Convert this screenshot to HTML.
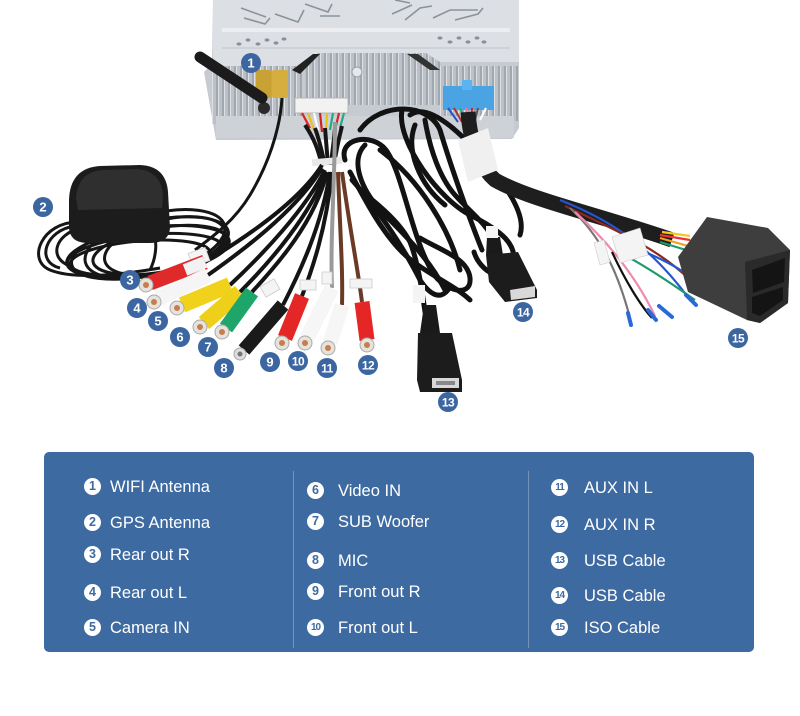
<!DOCTYPE html>
<html><head><meta charset="utf-8">
<style>
html,body{margin:0;padding:0;background:#fff;}
body{width:800px;height:716px;position:relative;overflow:hidden;font-family:"Liberation Sans",Arial,sans-serif;}
svg{position:absolute;left:0;top:0;}
.box{position:absolute;left:44px;top:452px;width:710px;height:200px;background:#3d6aa0;border-radius:5px;}
.dv{position:absolute;top:471px;width:1px;height:177px;background:rgba(255,255,255,0.28);}
.t{position:absolute;height:20px;line-height:20px;color:#fff;font-size:16.5px;white-space:nowrap;}
.c{position:absolute;width:17px;height:17px;border-radius:50%;background:#fff;color:#3d6aa0;font-weight:bold;font-size:12.5px;line-height:17px;text-align:center;}
.c2{font-size:10px;letter-spacing:-1px;}
</style></head><body>
<svg width="800" height="450" viewBox="0 0 800 450" xmlns="http://www.w3.org/2000/svg">
<defs>
<pattern id="fins" width="6" height="10" patternUnits="userSpaceOnUse">
<rect width="6" height="10" fill="#bcc1c7"/><rect x="0" width="2" height="10" fill="#a1a7ae"/><rect x="2" width="1" height="10" fill="#dde0e4"/>
</pattern>
</defs>
<!-- head unit -->
<polygon points="213,0 519,0 519,128 512,139 216,140 204,72 212,64" fill="#c6cbd1"/>
<rect x="212" y="64" width="90" height="60" fill="url(#fins)"/>
<rect x="305" y="53" width="135" height="52" fill="url(#fins)"/>
<rect x="440" y="66" width="78" height="55" fill="url(#fins)"/>
<path d="M213,0 H519 V62 H440 L426,53 H318 L301,66 H213 Z" fill="#dce0e5"/>
<path d="M222,30 H510" stroke="#eceef1" stroke-width="4"/>
<path d="M222,48 H510" stroke="#c9cdd2" stroke-width="1.5"/>
<polygon points="292,70 313,54 320,54 300,74" fill="#222"/>
<polygon points="407,54 430,70 440,70 418,54" fill="#333"/>
<rect x="216" y="116" width="298" height="22" fill="#ced2d7"/>
<g stroke="#8c9299" stroke-width="1.6" fill="none">
<path d="M241,8 L266,17 M244,18 L265,24 L270,18 M275,14 L298,22 L304,10 M305,4 L328,12 L332,4 M320,16 L340,16"/>
<path d="M392,14 L412,5 M405,20 L420,8 L432,6 M433,18 L450,10 L478,10 M455,20 L478,14 L483,8 M395,0 L410,3"/>
</g>
<g fill="#8b9097">
<ellipse cx="239" cy="44" rx="2.5" ry="1.6"/><ellipse cx="248" cy="40" rx="2.5" ry="1.6"/><ellipse cx="258" cy="44" rx="2.5" ry="1.6"/><ellipse cx="267" cy="40" rx="2.5" ry="1.6"/><ellipse cx="276" cy="43" rx="2.5" ry="1.6"/><ellipse cx="284" cy="39" rx="2.5" ry="1.6"/>
<ellipse cx="440" cy="38" rx="2.5" ry="1.6"/><ellipse cx="450" cy="42" rx="2.5" ry="1.6"/><ellipse cx="459" cy="38" rx="2.5" ry="1.6"/><ellipse cx="468" cy="42" rx="2.5" ry="1.6"/><ellipse cx="477" cy="38" rx="2.5" ry="1.6"/><ellipse cx="484" cy="42" rx="2.5" ry="1.6"/>
</g>
<circle cx="357" cy="72" r="5" fill="#e5e7ea" stroke="#9aa0a6"/>
<!-- white connector -->
<rect x="295" y="98" width="53" height="15" fill="#f2f2f2" stroke="#b5b5b5"/>
<g stroke-width="2.2" fill="none">
<path d="M302,113 L310,128" stroke="#d22"/><path d="M308,113 L314,130" stroke="#e8c21a"/><path d="M314,113 L318,130" stroke="#fff"/><path d="M320,113 L322,132" stroke="#c22"/><path d="M327,113 L326,132" stroke="#e8c21a"/><path d="M333,113 L330,130" stroke="#2a8"/><path d="M339,113 L335,130" stroke="#d22"/><path d="M344,113 L340,128" stroke="#2a8"/>
</g>
<!-- blue connector -->
<rect x="443" y="86" width="51" height="24" fill="#4aa4e4"/>
<rect x="462" y="80" width="10" height="10" fill="#5ab4f0"/>
<g stroke-width="2" fill="none">
<path d="M448,108 L458,122" stroke="#2255cc"/><path d="M454,108 L462,122" stroke="#a33"/><path d="M460,108 L465,120" stroke="#2a8"/><path d="M466,108 L468,120" stroke="#e7a"/><path d="M472,108 L471,120" stroke="#d22"/><path d="M478,108 L475,120" stroke="#555"/><path d="M486,108 L480,120" stroke="#fff"/>
</g>
<!-- gold SMA -->
<rect x="256" y="70" width="15" height="28" fill="#c9a236" rx="2"/>
<rect x="272" y="70" width="16" height="28" fill="#d6ae40" rx="2"/>
<circle cx="264" cy="108" r="6" fill="#2a2a2a"/>
<!-- antenna stub -->
<line x1="200" y1="57" x2="262" y2="98" stroke="#1b1b1b" stroke-width="11" stroke-linecap="round"/>
<!-- antenna cable -->
<path d="M282,98 C280,130 268,165 250,195 C235,220 215,235 195,250" stroke="#151515" stroke-width="3" fill="none"/>
<!-- GPS coil -->
<g stroke="#161616" stroke-width="3" fill="none">
<path d="M78,222 C42,222 26,260 50,270 C75,280 120,275 160,268"/>
<path d="M75,226 C45,230 35,262 60,268"/>
<path d="M80,228 C55,235 48,258 70,266"/>
<ellipse cx="150" cy="248" rx="80" ry="27" transform="rotate(-12 150 248)"/>
<ellipse cx="148" cy="252" rx="82" ry="24" transform="rotate(-8 148 252)"/>
<ellipse cx="155" cy="244" rx="72" ry="30" transform="rotate(-15 155 244)"/>
<ellipse cx="160" cy="250" rx="68" ry="22" transform="rotate(-10 160 250)"/>
<ellipse cx="145" cy="255" rx="78" ry="20" transform="rotate(-6 145 255)"/>
<ellipse cx="165" cy="246" rx="62" ry="26" transform="rotate(-14 165 246)"/>
<ellipse cx="140" cy="258" rx="70" ry="17" transform="rotate(-5 140 258)"/>
<path d="M150,225 C160,240 155,260 150,270"/>
</g>
<!-- GPS module -->
<path d="M69,200 Q70,168 100,166 L140,165 Q166,166 168,192 L170,228 Q169,243 150,243 L86,243 Q70,242 69,228 Z" fill="#1c1c1c"/>
<path d="M76,198 Q78,172 102,170 L138,169 Q160,171 163,194 L162,208 L78,210 Z" fill="#2f2f2f"/>
<!-- USB cable loops -->
<g stroke="#121212" stroke-width="5" fill="none" stroke-linecap="round">
<path d="M345,160 C338,138 372,132 386,150 C402,172 410,230 430,268 C440,290 472,300 470,278 C468,258 440,250 420,238"/>
<path d="M360,130 C380,102 428,102 440,130 C452,170 470,220 482,250"/>
<path d="M402,110 C396,142 440,200 470,215 C500,230 520,245 512,266 C505,285 480,272 474,252"/>
<path d="M350,172 C366,202 382,232 402,252 C422,272 455,285 470,300"/>
<path d="M352,180 C370,200 400,240 420,280 C430,295 440,300 448,290"/>
<path d="M425,312 C422,290 418,262 410,242 C400,222 378,204 362,192"/>
<path d="M493,240 C488,225 470,212 455,195 C440,178 430,150 425,120"/>
<path d="M410,115 C430,100 470,140 500,180 C515,200 525,220 520,235"/>
<path d="M380,150 C420,180 450,230 460,270"/>
<path d="M365,145 C350,160 360,190 385,215 C405,235 430,260 445,290"/>
<path d="M415,125 C405,150 420,185 445,205"/>
</g>
<!-- bundle -->
<g stroke="#161616" stroke-width="4" fill="none">
<path d="M305,125 C315,140 318,150 322,165"/><path d="M315,128 C320,142 322,152 325,165"/><path d="M325,128 C326,140 327,152 328,165"/><path d="M335,128 C334,142 332,152 331,165"/><path d="M342,126 C338,142 336,152 334,165"/>
</g>
<rect x="312" y="158" width="30" height="7" fill="#e8e8e8" transform="rotate(-5 327 161)"/>
<!-- fan cables -->
<g stroke="#141414" stroke-width="4" fill="none">
<path d="M322,165 C300,200 250,235 205,262"/>
<path d="M322,168 C300,205 255,242 208,275"/>
<path d="M325,170 C305,210 262,255 230,285"/>
<path d="M326,172 C310,215 272,260 240,292"/>
<path d="M327,172 C315,222 277,265 252,292"/>
<path d="M330,172 C322,225 300,272 283,305"/>
<path d="M332,172 C326,230 312,270 302,296"/>
</g>
<path d="M335,122 C335,180 330,240 332,288" stroke="#9a9a9a" stroke-width="4" fill="none"/>
<path d="M338,172 C340,230 343,270 342,305" stroke="#6b3a25" stroke-width="4" fill="none"/>
<path d="M342,172 C350,230 358,270 362,302" stroke="#6b3a25" stroke-width="4" fill="none"/>
<!-- tags -->
<g fill="#f4f4f4" stroke="#ccc" stroke-width="0.8">
<rect x="190" y="250" width="18" height="14" transform="rotate(-20 199 257)"/>
<rect x="262" y="282" width="16" height="12" transform="rotate(-30 270 288)"/>
<rect x="300" y="280" width="16" height="10"/>
<rect x="350" y="279" width="22" height="9"/>
<rect x="322" y="272" width="10" height="12"/>
</g>
<!-- RCA plugs -->
<g stroke-linecap="butt">
<line x1="205" y1="262" x2="150" y2="283" stroke="#e02a2a" stroke-width="15"/>
<line x1="205" y1="262" x2="185" y2="270" stroke="#f2f2f2" stroke-width="12"/>
<line x1="208" y1="275" x2="158" y2="299" stroke="#f5f5f5" stroke-width="15"/>
<line x1="230" y1="285" x2="182" y2="305" stroke="#f0d21c" stroke-width="16"/>
<line x1="240" y1="292" x2="204" y2="323" stroke="#eed01a" stroke-width="16"/>
<line x1="252" y1="292" x2="226" y2="328" stroke="#1ea66a" stroke-width="15"/>
<line x1="283" y1="305" x2="244" y2="350" stroke="#1a1a1a" stroke-width="14"/>
<line x1="302" y1="296" x2="285" y2="338" stroke="#e52626" stroke-width="15"/>
<line x1="332" y1="288" x2="307" y2="338" stroke="#f6f6f6" stroke-width="15"/>
<line x1="342" y1="305" x2="330" y2="343" stroke="#f6f6f6" stroke-width="15"/>
<line x1="362" y1="302" x2="367" y2="340" stroke="#e52626" stroke-width="15"/>
</g>
<g stroke="#aaa" stroke-width="1">
<circle cx="146" cy="285" r="7" fill="#e6e2dc"/><circle cx="154" cy="302" r="7" fill="#e6e2dc"/><circle cx="177" cy="308" r="7" fill="#e6e2dc"/><circle cx="200" cy="327" r="7" fill="#e6e2dc"/><circle cx="222" cy="332" r="7" fill="#e6e2dc"/><circle cx="240" cy="354" r="6" fill="#ddd"/><circle cx="282" cy="343" r="7" fill="#e6e2dc"/><circle cx="305" cy="343" r="7" fill="#e6e2dc"/><circle cx="328" cy="348" r="7" fill="#e6e2dc"/><circle cx="367" cy="345" r="7" fill="#e6e2dc"/>
</g>
<g fill="#c77e4e">
<circle cx="146" cy="285" r="3"/><circle cx="154" cy="302" r="3"/><circle cx="177" cy="308" r="3"/><circle cx="200" cy="327" r="3"/><circle cx="222" cy="332" r="3"/><circle cx="240" cy="354" r="2.5" fill="#777"/><circle cx="282" cy="343" r="3"/><circle cx="305" cy="343" r="3"/><circle cx="328" cy="348" r="3"/><circle cx="367" cy="345" r="3"/>
</g>
<!-- harness braid -->
<path d="M468,112 C470,140 478,165 495,180 C530,200 600,215 672,240" stroke="#1e1e1e" stroke-width="15" fill="none"/>
<polygon points="458,140 488,128 498,170 468,182" fill="#f0f0f0"/>
<!-- colored wires -->
<g stroke-width="2.2" fill="none">
<path d="M560,200 C610,220 650,245 690,300" stroke="#2456d0"/>
<path d="M565,206 C620,232 660,250 690,280" stroke="#8a2a20"/>
<path d="M570,208 C605,240 620,280 630,318" stroke="#777"/>
<path d="M575,212 C615,248 640,285 655,316" stroke="#f08ab0"/>
<path d="M612,252 C625,280 640,305 652,318" stroke="#111"/>
<path d="M630,258 C655,272 678,288 695,300" stroke="#1f9a6a"/>
<path d="M640,250 C660,258 680,268 698,282" stroke="#2456d0"/>
<path d="M660,235 L690,240" stroke="#e33"/><path d="M660,238 L688,246" stroke="#f0a020"/><path d="M662,232 L690,236" stroke="#f4c820"/><path d="M660,242 L686,250" stroke="#1f9a6a"/>
</g>
<g stroke="#2a6ad8" stroke-width="4" stroke-linecap="round">
<line x1="628" y1="313" x2="631" y2="325"/><line x1="648" y1="310" x2="656" y2="320"/><line x1="659" y1="306" x2="672" y2="317"/><line x1="686" y1="295" x2="696" y2="305"/><line x1="690" y1="277" x2="699" y2="290"/>
</g>
<polygon points="594,243 604,240 610,262 600,265" fill="#f4f4f4" stroke="#ccc" stroke-width="0.6"/>
<polygon points="612,237 640,228 648,255 620,263" fill="#f4f4f4" stroke="#ccc" stroke-width="0.6"/>
<!-- ISO block -->
<polygon points="678,257 707,217 768,228 790,250 788,303 760,323 747,320 688,292" fill="#3e3e3e"/>
<polygon points="745,262 790,250 788,303 760,323 747,320" fill="#2a2a2a"/>
<polygon points="752,270 785,258 784,282 753,293" fill="#141414"/>
<polygon points="752,297 783,287 783,300 760,316 752,313" fill="#141414"/>
<!-- USB 14 -->
<polygon points="487,237 500,237 503,255 486,255" fill="#1a1a1a"/>
<polygon points="486,255 518,252 537,290 537,298 505,302 489,282" fill="#1c1c1c"/>
<polygon points="510,290 535,286 535,297 511,300" fill="#d8d8d8"/>
<rect x="486" y="226" width="12" height="12" fill="#f4f4f4"/>
<!-- USB 13 -->
<polygon points="424,305 436,305 440,333 420,333" fill="#1a1a1a"/>
<polygon points="418,333 452,333 462,380 462,392 420,392 417,380" fill="#1c1c1c"/>
<rect x="432" y="378" width="27" height="10" fill="#d8d8d8"/>
<rect x="436" y="381" width="19" height="4" fill="#888"/>
<rect x="413" y="285" width="12" height="18" fill="#f4f4f4"/>
<!-- markers -->
<g font-family="Liberation Sans, Arial, sans-serif" font-weight="bold" font-size="13" fill="#fff" text-anchor="middle">
<circle cx="251" cy="63" r="10" fill="#3c66a1"/><text x="251" y="67.5">1</text>
<circle cx="43" cy="207" r="10" fill="#3c66a1"/><text x="43" y="211.5">2</text>
<circle cx="130" cy="280" r="10" fill="#3c66a1"/><text x="130" y="284.5">3</text>
<circle cx="137" cy="308" r="10" fill="#3c66a1"/><text x="137" y="312.5">4</text>
<circle cx="158" cy="321" r="10" fill="#3c66a1"/><text x="158" y="325.5">5</text>
<circle cx="180" cy="337" r="10" fill="#3c66a1"/><text x="180" y="341.5">6</text>
<circle cx="208" cy="347" r="10" fill="#3c66a1"/><text x="208" y="351.5">7</text>
<circle cx="224" cy="368" r="10" fill="#3c66a1"/><text x="224" y="372.5">8</text>
<circle cx="270" cy="362" r="10" fill="#3c66a1"/><text x="270" y="366.5">9</text>
<circle cx="298" cy="361" r="10" fill="#3c66a1"/><text x="298" y="365.5" font-size="12" letter-spacing="-0.5">10</text>
<circle cx="327" cy="368" r="10" fill="#3c66a1"/><text x="327" y="372.5" font-size="12" letter-spacing="-0.5">11</text>
<circle cx="368" cy="365" r="10" fill="#3c66a1"/><text x="368" y="369.5" font-size="12" letter-spacing="-0.5">12</text>
<circle cx="448" cy="402" r="10" fill="#3c66a1"/><text x="448" y="406.5" font-size="12" letter-spacing="-0.5">13</text>
<circle cx="523" cy="312" r="10" fill="#3c66a1"/><text x="523" y="316.5" font-size="12" letter-spacing="-0.5">14</text>
<circle cx="738" cy="338" r="10" fill="#3c66a1"/><text x="738" y="342.5" font-size="12" letter-spacing="-0.5">15</text>
</g>
</svg>

<div class="box"></div>
<div class="dv" style="left:293px"></div>
<div class="dv" style="left:528px"></div>

<div class="c" style="left:84px;top:478px">1</div><div class="t" style="left:110px;top:477px">WIFI Antenna</div>
<div class="c" style="left:84px;top:514px">2</div><div class="t" style="left:110px;top:513px">GPS Antenna</div>
<div class="c" style="left:84px;top:546px">3</div><div class="t" style="left:110px;top:545px">Rear out R</div>
<div class="c" style="left:84px;top:584px">4</div><div class="t" style="left:110px;top:583px">Rear out L</div>
<div class="c" style="left:84px;top:619px">5</div><div class="t" style="left:110px;top:618px">Camera IN</div>

<div class="c" style="left:307px;top:482px">6</div><div class="t" style="left:338px;top:481px">Video IN</div>
<div class="c" style="left:307px;top:513px">7</div><div class="t" style="left:338px;top:512px">SUB Woofer</div>
<div class="c" style="left:307px;top:552px">8</div><div class="t" style="left:338px;top:551px">MIC</div>
<div class="c" style="left:307px;top:583px">9</div><div class="t" style="left:338px;top:582px">Front out R</div>
<div class="c c2" style="left:307px;top:619px">10</div><div class="t" style="left:338px;top:618px">Front out L</div>

<div class="c c2" style="left:551px;top:479px">11</div><div class="t" style="left:584px;top:478px">AUX IN L</div>
<div class="c c2" style="left:551px;top:516px">12</div><div class="t" style="left:584px;top:515px">AUX IN R</div>
<div class="c c2" style="left:551px;top:552px">13</div><div class="t" style="left:584px;top:551px">USB Cable</div>
<div class="c c2" style="left:551px;top:587px">14</div><div class="t" style="left:584px;top:586px">USB Cable</div>
<div class="c c2" style="left:551px;top:619px">15</div><div class="t" style="left:584px;top:618px">ISO Cable</div>
</body></html>
